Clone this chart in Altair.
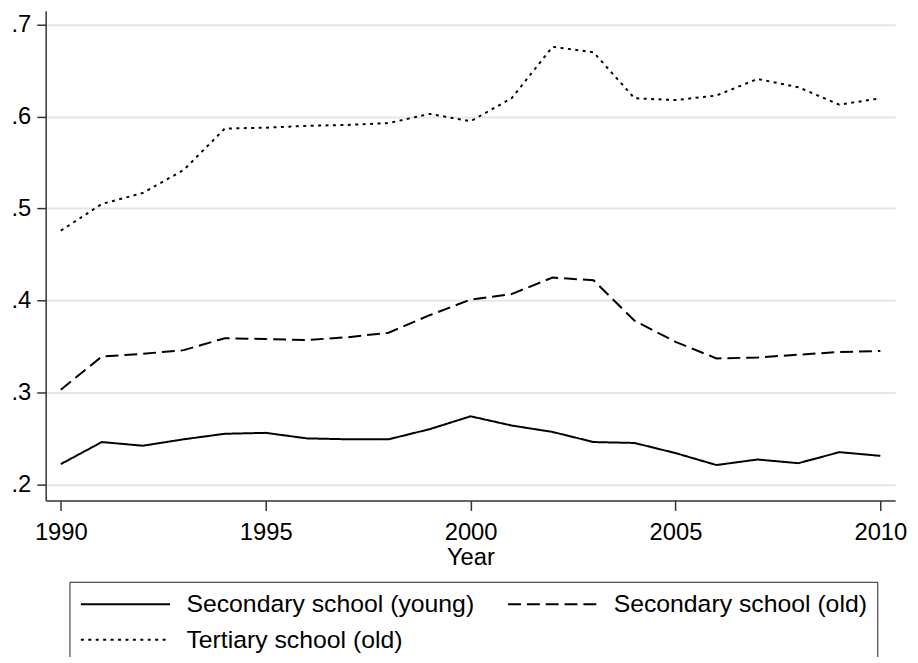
import altair as alt
import pandas as pd

years = list(range(1990, 2011))

sec_young = [0.222, 0.246, 0.242, 0.249, 0.255, 0.256, 0.250, 0.249, 0.249, 0.260,
             0.274, 0.264, 0.257, 0.246, 0.245, 0.234, 0.221, 0.227, 0.223, 0.235, 0.231]
sec_old = [0.303, 0.339, 0.342, 0.346, 0.359, 0.358, 0.357, 0.360, 0.365, 0.384,
           0.401, 0.407, 0.425, 0.422, 0.378, 0.355, 0.337, 0.338, 0.341, 0.344, 0.345]
tertiary_old = [0.476, 0.505, 0.517, 0.542, 0.587, 0.588, 0.590, 0.591, 0.593, 0.603,
                0.595, 0.620, 0.676, 0.670, 0.620, 0.618, 0.623, 0.641, 0.632, 0.613, 0.620]

series_names = ["Secondary school (young)", "Secondary school (old)", "Tertiary school (old)"]
y_ticks = [0.2, 0.3, 0.4, 0.5, 0.6, 0.7]
x_ticks = [1990, 1995, 2000, 2005, 2010]

rows = []
for name, vals in zip(series_names, [sec_young, sec_old, tertiary_old]):
    for yr, v in zip(years, vals):
        rows.append({"Year": yr, "value": v, "series": name})
df = pd.DataFrame(rows)

FONT = "Liberation Sans"

chart = alt.Chart(df).mark_line(color="black", strokeWidth=2).encode(
    x=alt.X("Year:Q",
            scale=alt.Scale(domain=[1989.63, 2010.36], nice=False, zero=False),
            axis=alt.Axis(values=x_ticks, format="d", title="Year", grid=False,
                          labelFontSize=24, titleFontSize=24, titleFontWeight="normal",
                          tickSize=10, labelPadding=10, titlePadding=2,
                          labelFlush=False, labelOverlap=False)),
    y=alt.Y("value:Q",
            scale=alt.Scale(domain=[0.1824, 0.7151], nice=False, zero=False),
            axis=alt.Axis(values=y_ticks, title=None, grid=True,
                          labelExpr="substring(format(datum.value, '.1f'), 1)",
                          labelFontSize=24, tickSize=9, labelPadding=6,
                          labelFlush=False, labelOverlap=False)),
    strokeDash=alt.StrokeDash("series:N",
                              scale=alt.Scale(domain=series_names,
                                              range=[[1, 0], [13, 6], [3, 4.5]]),
                              legend=alt.Legend(title=None, orient="none",
                                                direction="horizontal",
                                                legendX=24, legendY=576,
                                                columns=2, columnPadding=29,
                                                rowPadding=10,
                                                symbolType="M-1,0H7.18",
                                                symbolSize=484,
                                                symbolStrokeWidth=2,
                                                symbolStrokeColor="black",
                                                symbolFillColor="transparent",
                                                labelFontSize=25, labelOffset=83,
                                                labelLimit=500, labelFont=FONT,
                                                labelColor="black",
                                                padding=10, strokeColor="#222")),
).properties(
    width=857,
    height=494,
    autosize=alt.AutoSizeParams(type="none"),
    padding={"left": 38, "top": 0, "right": 15, "bottom": 155},
).configure_view(
    strokeWidth=0
).configure_axis(
    labelFont=FONT, titleFont=FONT, labelColor="black", titleColor="black",
    domainColor="#333333", domainWidth=1.5, tickColor="#333333", tickWidth=1.5,
    gridColor="#e6e6e6", gridWidth=2
)

chart.save("out.html", embed_options={"renderer": "svg", "actions": False})
